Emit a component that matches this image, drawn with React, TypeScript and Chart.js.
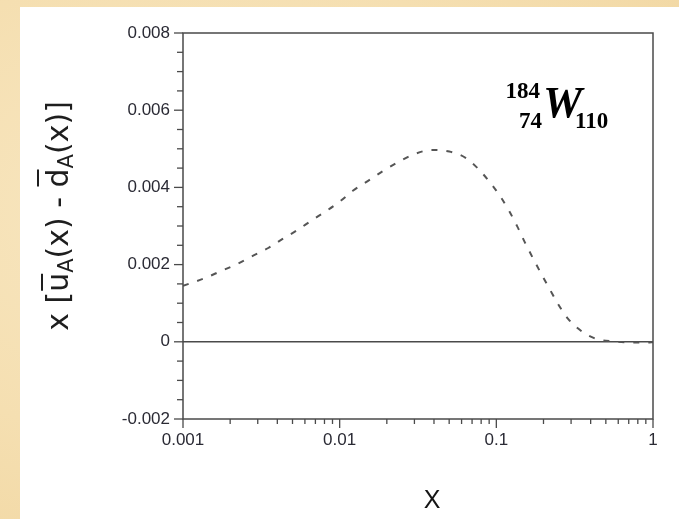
import React, { useEffect, useRef } from 'react';
import { Chart, registerables } from 'chart.js';

Chart.register(...registerables);

// Curve values
const xValues = [0.001, 0.00138, 0.00172, 0.0022, 0.00274, 0.0035, 0.0043, 0.0054, 0.0066, 0.0083, 0.0102, 0.0122, 0.0156, 0.0192, 0.024, 0.0303, 0.0387, 0.0501, 0.064, 0.0767, 0.0911, 0.1066, 0.121, 0.136, 0.1524, 0.1721, 0.1948, 0.22, 0.251, 0.288, 0.351, 0.437, 0.558, 0.748, 0.929, 1];
const yValues = [0.00145, 0.00165, 0.00182, 0.00201, 0.00221, 0.00243, 0.00266, 0.0029, 0.00314, 0.0034, 0.00366, 0.00392, 0.0042, 0.00444, 0.00467, 0.00487, 0.00497, 0.00493, 0.00476, 0.00448, 0.00413, 0.00375, 0.00338, 0.00299, 0.00257, 0.00215, 0.00174, 0.00135, 0.00094, 0.00059, 0.00027, 0.00007, 0.00001, -0.00002, -0.00002, -0.00001];

const xTickValues = [0.001, 0.01, 0.1, 1];
const xTickLabels = ['0.001', '0.01', '0.1', '1'];
const xMinorMultipliers = [2, 3, 4, 5, 6, 7, 8, 9];
const yTickValues = [-0.002, 0, 0.002, 0.004, 0.006, 0.008];
const yTickLabels = ['-0.002', '0', '0.002', '0.004', '0.006', '0.008'];
const yMinorStep = 0.0005;
const yMajorStep = 0.002;

const AXIS_COLOR = '#4a4a4a';
const LABEL_COLOR = '#2a2a34';

const decorPlugin = {
  id: 'decor',
  beforeDatasetsDraw(chart: any) {
    const ctx = chart.ctx;
    const { left, right } = chart.chartArea;
    const y0 = chart.scales.y.getPixelForValue(0);
    ctx.save();
    ctx.strokeStyle = AXIS_COLOR;
    ctx.lineWidth = 1.5;
    ctx.beginPath();
    ctx.moveTo(left, y0);
    ctx.lineTo(right, y0);
    ctx.stroke();
    ctx.restore();
  },
  afterDraw(chart: any) {
    const ctx = chart.ctx;
    const { left, right, top, bottom } = chart.chartArea;
    const xs = chart.scales.x;
    const ys = chart.scales.y;
    ctx.save();
    ctx.strokeStyle = AXIS_COLOR;
    ctx.lineWidth = 1.5;
    ctx.strokeRect(left, top, right - left, bottom - top);

    // y ticks (outside, left)
    ctx.lineWidth = 1.3;
    const yMin = ys.min, yMax = ys.max;
    const n = Math.round((yMax - yMin) / yMinorStep);
    for (let i = 0; i <= n; i++) {
      const v = yMin + i * yMinorStep;
      const r = v / yMajorStep;
      const major = Math.abs(r - Math.round(r)) < 1e-6;
      const py = ys.getPixelForValue(v);
      const len = major ? 9 : 6;
      ctx.beginPath();
      ctx.moveTo(left, py);
      ctx.lineTo(left - len, py);
      ctx.stroke();
    }
    // x ticks (outside, bottom)
    for (let d = 0; d < xTickValues.length; d++) {
      const v = xTickValues[d];
      const px = xs.getPixelForValue(v);
      ctx.beginPath();
      ctx.moveTo(px, bottom);
      ctx.lineTo(px, bottom + 9);
      ctx.stroke();
      if (d < xTickValues.length - 1) {
        for (const m of xMinorMultipliers) {
          const mx = xs.getPixelForValue(v * m);
          ctx.beginPath();
          ctx.moveTo(mx, bottom);
          ctx.lineTo(mx, bottom + 5);
          ctx.stroke();
        }
      }
    }

    // X axis title
    ctx.fillStyle = '#151515';
    ctx.font = '25px "Liberation Sans", Arial, sans-serif';
    ctx.textAlign = 'center';
    ctx.textBaseline = 'alphabetic';
    ctx.fillText('X', 412, 501);

    // Y axis title, rotated
    const main = '30px "DejaVu Sans", sans-serif';
    const sub = '21px "DejaVu Sans", sans-serif';
    type Piece = { t: string; font: string; dy: number; bar?: number };
    const pieces: Piece[] = [
      { t: 'x [', font: main, dy: 0 },
      { t: 'u', font: main, dy: 0, bar: -26 },
      { t: 'A', font: sub, dy: 5 },
      { t: '(x) - ', font: main, dy: 0 },
      { t: 'd', font: main, dy: 0, bar: -30 },
      { t: 'A', font: sub, dy: 5 },
      { t: '(x)]', font: main, dy: 0 },
    ];
    let total = 0;
    const widths: number[] = [];
    for (const p of pieces) {
      ctx.font = p.font;
      const w = ctx.measureText(p.t).width;
      widths.push(w);
      total += w;
    }
    ctx.translate(48, 209);
    ctx.rotate(-Math.PI / 2);
    ctx.textAlign = 'left';
    ctx.fillStyle = '#1e1e1e';
    ctx.strokeStyle = '#1e1e1e';
    let cx = -total / 2;
    pieces.forEach((p, i) => {
      ctx.font = p.font;
      ctx.fillText(p.t, cx, p.dy);
      if (p.bar !== undefined) {
        ctx.lineWidth = 2;
        ctx.beginPath();
        ctx.moveTo(cx + 1, p.bar);
        ctx.lineTo(cx + widths[i] - 1, p.bar);
        ctx.stroke();
      }
      cx += widths[i];
    });
    ctx.restore();

    // Nuclide annotation
    ctx.save();
    ctx.fillStyle = '#000';
    ctx.textBaseline = 'alphabetic';
    ctx.font = 'bold 23px "Liberation Serif", "Times New Roman", serif';
    ctx.textAlign = 'right';
    ctx.fillText('184', 520, 91);
    ctx.fillText('74', 522, 121);
    ctx.font = 'italic bold 44px "Liberation Serif", "Times New Roman", serif';
    ctx.textAlign = 'left';
    ctx.fillText('W', 523, 110);
    ctx.font = 'bold 23px "Liberation Serif", "Times New Roman", serif';
    ctx.fillText('110', 555, 121);
    ctx.restore();
  },
};

export default function App() {
  const ref = useRef<HTMLCanvasElement | null>(null);
  useEffect(() => {
    if (!ref.current) return;
    const chart = new Chart(ref.current, {
      type: 'line',
      data: {
        datasets: [
          {
            data: xValues.map((x, i) => ({ x, y: yValues[i] })),
            borderColor: '#555',
            borderWidth: 2,
            borderDash: [6, 9],
            pointRadius: 0,
            fill: false,
            cubicInterpolationMode: 'monotone',
          },
        ],
      },
      options: {
        animation: false,
        responsive: false,
        events: [],
        layout: { padding: { left: 0, right: 26, top: 26, bottom: 0 } },
        plugins: { legend: { display: false }, tooltip: { enabled: false }, title: { display: false } },
        scales: {
          x: {
            type: 'logarithmic',
            min: 0.001,
            max: 1,
            grid: { display: false, drawTicks: false },
            border: { display: false },
            afterBuildTicks: (scale: any) => {
              scale.ticks = xTickValues.map((v) => ({ value: v }));
            },
            afterFit: (scale: any) => {
              scale.height = 100;
            },
            ticks: {
              autoSkip: false,
              maxRotation: 0,
              padding: 11,
              color: LABEL_COLOR,
              font: { family: '"Liberation Sans", Arial, sans-serif', size: 17 },
              callback: (_v: any, i: number) => xTickLabels[i],
            },
          },
          y: {
            min: -0.002,
            max: 0.008,
            grid: { display: false, drawTicks: false },
            border: { display: false },
            afterBuildTicks: (scale: any) => {
              scale.ticks = yTickValues.map((v) => ({ value: v }));
            },
            afterFit: (scale: any) => {
              scale.width = 163;
            },
            ticks: {
              autoSkip: false,
              padding: 13,
              color: LABEL_COLOR,
              font: { family: '"Liberation Sans", Arial, sans-serif', size: 17 },
              callback: (_v: any, i: number) => yTickLabels[i],
            },
          },
        },
      },
      plugins: [decorPlugin],
    } as any);
    return () => chart.destroy();
  }, []);

  return (
    <div
      style={{
        position: 'fixed',
        left: 0,
        top: 0,
        width: 679,
        height: 519,
        overflow: 'hidden',
        background: 'radial-gradient(ellipse at 30% 40%, #f8e7c2 0%, #f5dfb1 55%, #f1d6a0 100%)',
      }}
    >
      <div style={{ position: 'absolute', left: 20, top: 7, width: 659, height: 512, background: '#fff' }}>
        <canvas ref={ref} width={659} height={512} style={{ display: 'block' }} />
      </div>
    </div>
  );
}
